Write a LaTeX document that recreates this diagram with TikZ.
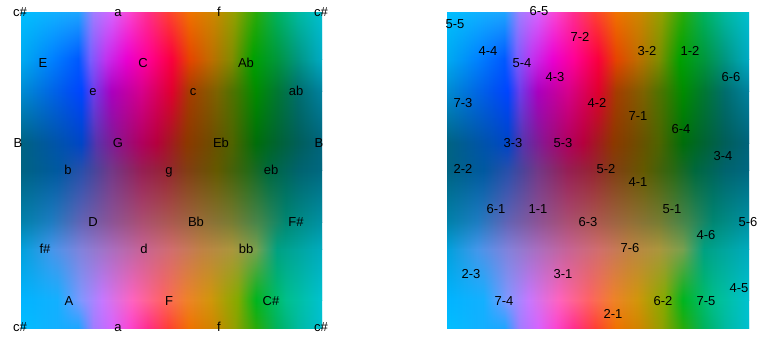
\documentclass[tikz,border=0pt]{standalone}
\usepackage{fontspec}
\setmainfont{Liberation Sans}

% colour rows of the field, sampled left to right
\pgfdeclarehorizontalshading{rowA}{100bp}{rgb(0bp)=(0,.75,1); rgb(25bp)=(0,.75,1); rgb(34.5bp)=(.12,.65,1); rgb(37bp)=(.63,.49,1); rgb(40bp)=(.84,.39,1); rgb(43bp)=(.98,.27,.82); rgb(46bp)=(1,.18,.55); rgb(49.5bp)=(1,.25,.2); rgb(53bp)=(.94,.45,0); rgb(57bp)=(.8,.53,0); rgb(60.5bp)=(.57,.63,0); rgb(64bp)=(.16,.67,.04); rgb(67.5bp)=(0,.7,.37); rgb(71bp)=(0,.73,.63); rgb(75bp)=(0,.75,.82); rgb(100bp)=(0,.75,.82)}
\pgfdeclarehorizontalshading{rowB}{100bp}{rgb(0bp)=(0,.67,.94); rgb(25bp)=(0,.67,.94); rgb(30bp)=(0,.51,1); rgb(34.5bp)=(0,.35,1); rgb(36.5bp)=(.47,.37,1); rgb(39bp)=(.75,.2,.94); rgb(42.5bp)=(.92,0,.82); rgb(46bp)=(1,0,.59); rgb(50bp)=(.98,0,.24); rgb(53bp)=(.9,.27,0); rgb(56.5bp)=(.75,.43,0); rgb(60bp)=(.51,.55,0); rgb(63.5bp)=(0,.63,0); rgb(67.5bp)=(0,.59,.24); rgb(71bp)=(0,.59,.51); rgb(75bp)=(0,.67,.78); rgb(100bp)=(0,.67,.78)}
\pgfdeclarehorizontalshading{rowC}{100bp}{rgb(0bp)=(0,.55,.82); rgb(25bp)=(0,.55,.82); rgb(32.5bp)=(0,.33,.94); rgb(35bp)=(0,.27,1); rgb(37bp)=(.43,.24,.92); rgb(40bp)=(.67,0,.75); rgb(45bp)=(.84,0,.55); rgb(50bp)=(.88,0,.18); rgb(53bp)=(.65,.24,0); rgb(57.5bp)=(.49,.39,0); rgb(61bp)=(.25,.47,0); rgb(64bp)=(0,.55,0); rgb(67.5bp)=(0,.47,.2); rgb(71bp)=(0,.43,.43); rgb(75bp)=(0,.51,.63); rgb(100bp)=(0,.51,.63)}
\pgfdeclarehorizontalshading{rowD}{100bp}{rgb(0bp)=(0,.39,.51); rgb(25bp)=(0,.39,.51); rgb(32.5bp)=(0,.31,.71); rgb(35bp)=(0,.27,.78); rgb(37.5bp)=(.35,.2,.67); rgb(41bp)=(.55,.08,.55); rgb(45bp)=(.69,0,.37); rgb(47.5bp)=(.71,0,.24); rgb(52.5bp)=(.55,.22,0); rgb(56bp)=(.45,.29,0); rgb(60bp)=(.31,.39,0); rgb(64bp)=(0,.43,.04); rgb(67.5bp)=(0,.39,.2); rgb(71bp)=(0,.37,.35); rgb(75bp)=(0,.39,.49); rgb(100bp)=(0,.39,.49)}
\pgfdeclarehorizontalshading{rowE}{100bp}{rgb(0bp)=(0,.39,.51); rgb(25bp)=(0,.39,.51); rgb(31bp)=(0,.35,.63); rgb(35bp)=(.16,.31,.67); rgb(40bp)=(.45,.22,.53); rgb(45bp)=(.59,.12,.33); rgb(49bp)=(.59,.14,.2); rgb(52.5bp)=(.51,.24,.08); rgb(57.5bp)=(.39,.35,0); rgb(62.5bp)=(.16,.41,.08); rgb(66bp)=(0,.41,.24); rgb(71bp)=(0,.39,.43); rgb(75bp)=(0,.41,.51); rgb(100bp)=(0,.41,.51)}
\pgfdeclarehorizontalshading{rowF}{100bp}{rgb(0bp)=(0,.51,.67); rgb(25bp)=(0,.51,.67); rgb(30bp)=(.12,.49,.76); rgb(35bp)=(.39,.39,.71); rgb(40bp)=(.55,.33,.59); rgb(45bp)=(.67,.31,.45); rgb(50bp)=(.67,.35,.31); rgb(55bp)=(.59,.43,.22); rgb(60bp)=(.47,.49,.2); rgb(65bp)=(.24,.53,.31); rgb(69bp)=(0,.53,.45); rgb(75bp)=(0,.57,.65); rgb(100bp)=(0,.57,.65)}
\pgfdeclarehorizontalshading{rowG}{100bp}{rgb(0bp)=(0,.63,.86); rgb(25bp)=(0,.63,.86); rgb(30bp)=(.27,.59,.92); rgb(35bp)=(.51,.51,.86); rgb(40bp)=(.67,.43,.75); rgb(45bp)=(.78,.39,.59); rgb(50bp)=(.82,.43,.43); rgb(55bp)=(.75,.51,.27); rgb(60bp)=(.67,.59,.24); rgb(64bp)=(.47,.63,.31); rgb(67.5bp)=(0,.63,.51); rgb(75bp)=(0,.67,.75); rgb(100bp)=(0,.67,.75)}
\pgfdeclarehorizontalshading{rowH}{100bp}{rgb(0bp)=(0,.71,1); rgb(25bp)=(0,.71,1); rgb(31bp)=(.08,.69,1); rgb(35bp)=(.51,.59,1); rgb(38.5bp)=(.78,.47,1); rgb(43.5bp)=(1,.39,.75); rgb(48.5bp)=(1,.39,.39); rgb(52.5bp)=(.94,.51,.16); rgb(56.5bp)=(.82,.59,.04); rgb(61bp)=(.51,.67,0); rgb(64bp)=(0,.71,.12); rgb(69bp)=(0,.75,.55); rgb(75bp)=(0,.76,.82); rgb(100bp)=(0,.76,.82)}

% vertical ramp: transparent at the top, opaque at the bottom
\pgfdeclareverticalshading{rampshade}{100bp}{color(0bp)=(white); color(25bp)=(white); color(75bp)=(black); color(100bp)=(black)}
\pgfdeclarefading{rampdown}{\pgfuseshading{rampshade}}

\begin{document}
\begin{tikzpicture}[
  x=0.75pt, y=0.75pt,
  lbl/.style={inner sep=0pt, text height=7pt, text depth=0pt,
              font=\fontsize{9.75pt}{11pt}\selectfont},
]
\useasboundingbox (0,0) rectangle (757,337);

% Colour fields (same field in both panels)
\foreach \xa/\xb in {21/322, 447/749} {
  \foreach \ya/\yb/\up/\lo in {325/278/rowA/rowB, 278/246/rowB/rowC,
      246/194/rowC/rowD, 194/167/rowD/rowE, 167/115/rowE/rowF,
      115/88/rowF/rowG, 88/37/rowG/rowH, 37/9/rowH/rowA} {
    \shade[shading=\up] (\xa,\yb) rectangle (\xb,\ya);
    \shade[shading=\lo, path fading=rampdown] (\xa,\yb) rectangle (\xb,\ya);
  }
}

% Left panel: key names
\node[lbl] (cs1) at (20,325) {c\#};  \node[lbl] (a1) at (118,325) {a};
\node[lbl] (f1) at (219,325) {f};    \node[lbl] (cs2) at (321,325) {c\#};
\node[lbl] (E) at (43,274) {E};      \node[lbl] (C) at (143,274) {C};
\node[lbl] (Ab) at (246,274) {Ab};
\node[lbl] (e) at (93,246) {e};      \node[lbl] (c) at (193,246) {c};
\node[lbl] (ab) at (296,246) {ab};
\node[lbl] (B1) at (18,194) {B};     \node[lbl] (G) at (118,194) {G};
\node[lbl] (Eb) at (221,194) {Eb};   \node[lbl] (B2) at (319,194) {B};
\node[lbl] (b) at (68,167) {b};      \node[lbl] (g) at (169,167) {g};
\node[lbl] (eb) at (271,167) {eb};
\node[lbl] (D) at (93,115) {D};      \node[lbl] (Bb) at (196,115) {Bb};
\node[lbl] (Fs) at (296,115) {F\#};
\node[lbl] (fs) at (45,88) {f\#};    \node[lbl] (d) at (144,88) {d};
\node[lbl] (bb) at (246,88) {bb};
\node[lbl] (A) at (69,36) {A};       \node[lbl] (F) at (169,36) {F};
\node[lbl] (Cs) at (271,36) {C\#};
\node[lbl] (cs3) at (20,10) {c\#};   \node[lbl] (a2) at (118,10) {a};
\node[lbl] (f2) at (219,10) {f};     \node[lbl] (cs4) at (321,10) {c\#};

% Right panel: cell indices
\node[lbl] (p55) at (455,313) {5-5}; \node[lbl] (p65) at (539,326) {6-5};
\node[lbl] (p72) at (580,300) {7-2}; \node[lbl] (p44) at (488,286) {4-4};
\node[lbl] (p32) at (647,286) {3-2}; \node[lbl] (p12) at (690,286) {1-2};
\node[lbl] (p54) at (522,274) {5-4}; \node[lbl] (p43) at (555,260) {4-3};
\node[lbl] (p66) at (731,260) {6-6}; \node[lbl] (p73) at (463,234) {7-3};
\node[lbl] (p42) at (597,234) {4-2}; \node[lbl] (p71) at (638,221) {7-1};
\node[lbl] (p64) at (681,208) {6-4}; \node[lbl] (p33) at (513,194) {3-3};
\node[lbl] (p53) at (563,194) {5-3}; \node[lbl] (p34) at (723,181) {3-4};
\node[lbl] (p22) at (463,168) {2-2}; \node[lbl] (p52) at (606,168) {5-2};
\node[lbl] (p41) at (638,155) {4-1}; \node[lbl] (p61) at (496,128) {6-1};
\node[lbl] (p11) at (538,128) {1-1}; \node[lbl] (p51) at (672,128) {5-1};
\node[lbl] (p63) at (588,115) {6-3}; \node[lbl] (p56) at (748,115) {5-6};
\node[lbl] (p46) at (706,102) {4-6}; \node[lbl] (p76) at (630,89) {7-6};
\node[lbl] (p23) at (471,63) {2-3};  \node[lbl] (p31) at (563,63) {3-1};
\node[lbl] (p45) at (739,49) {4-5};  \node[lbl] (p74) at (504,36) {7-4};
\node[lbl] (p62) at (663,36) {6-2};  \node[lbl] (p75) at (706,36) {7-5};
\node[lbl] (p21) at (613,23) {2-1};
\end{tikzpicture}
\end{document}
